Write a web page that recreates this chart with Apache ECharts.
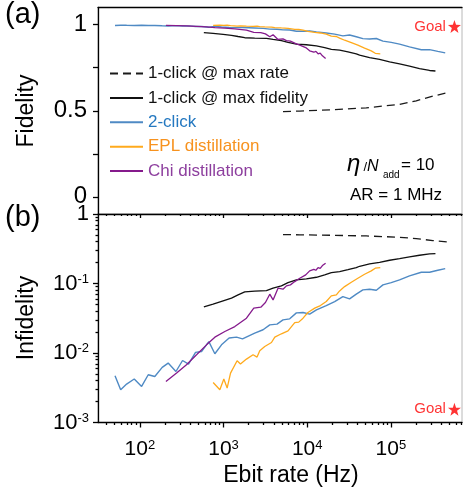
<!DOCTYPE html>
<html>
<head>
<meta charset="utf-8">
<script src="https://cdn.jsdelivr.net/npm/echarts@6/dist/echarts.min.js"></script>
<style>
  html, body { margin: 0; padding: 0; background: #fff; }
  #chart { width: 463px; height: 491px; }
</style>
</head>
<body>
<div id="chart"></div>
<script>
// Entanglement rate vs. fidelity / infidelity for several generation schemes
const seriesNames = ['1-click @ max rate', '1-click @ max fidelity', '2-click', 'EPL distillation', 'Chi distillation'];

// 1-click, operated at maximum rate (Hz, infidelity)
const oneClickRateRate = [5140, 8150, 20300, 50800, 127000, 201000, 317000, 479000];
const oneClickRateInf  = [0.505, 0.502, 0.494, 0.483, 0.463, 0.442, 0.415, 0.395];

// 1-click, operated at maximum fidelity
const oneClickFidRate = [582, 751, 989, 1245, 1492, 1794, 2361, 3258, 3907, 4920, 5900, 7430, 9770, 12880, 16180, 19450, 24430, 30700, 38600, 42300, 55700, 73300, 96600, 127000, 167000, 220000, 290000, 341000];
const oneClickFidInf  = [0.0461, 0.0504, 0.0562, 0.0615, 0.0686, 0.0757, 0.0775, 0.079, 0.0856, 0.0924, 0.103, 0.1127, 0.1164, 0.123, 0.133, 0.1434, 0.148, 0.158, 0.169, 0.177, 0.191, 0.202, 0.216, 0.228, 0.241, 0.255, 0.266, 0.269];

// 2-click
const twoClickRate = [50.5, 59, 69.5, 85.7, 105, 126, 151, 185, 218, 270, 324, 382, 463, 546, 668, 788, 946, 1167, 1430, 1687, 2360, 2970, 3570, 4360, 5140, 6180, 7430, 8910, 10700, 12900, 16900, 21300, 26700, 32100, 38600, 46300, 55700, 67000, 80400, 101000, 127000, 167000, 231000, 290000, 364000, 446000];
const twoClickInf  = [0.0047, 0.00296, 0.00357, 0.00422, 0.0033, 0.00486, 0.00459, 0.0062, 0.00716, 0.00542, 0.0078, 0.00693, 0.0102, 0.0105, 0.0146, 0.00975, 0.0131, 0.0164, 0.0169, 0.016, 0.0193, 0.0216, 0.0254, 0.026, 0.030, 0.031, 0.0378, 0.0382, 0.0362, 0.0418, 0.0481, 0.055, 0.0648, 0.060, 0.0702, 0.0809, 0.0828, 0.0801, 0.0955, 0.103, 0.1127, 0.1286, 0.1453, 0.145, 0.155, 0.1637];

// EPL distillation
const eplRate = [752, 904, 1009, 1105, 1213, 1453, 1595, 1880, 2255, 2517, 2710, 3110, 3740, 4100, 4920, 5900, 7100, 7920, 8920, 10200, 12300, 14400, 16900, 19400, 22300, 24400, 28000, 33700, 40300, 48500, 58300, 65100, 74700];
const eplInf  = [0.00377, 0.00296, 0.00422, 0.00313, 0.00514, 0.00773, 0.00693, 0.00817, 0.00942, 0.00873, 0.01076, 0.0124, 0.01415, 0.0169, 0.0189, 0.0208, 0.0274, 0.0278, 0.0317, 0.0382, 0.0442, 0.0481, 0.055, 0.0664, 0.0686, 0.0783, 0.0902, 0.1044, 0.119, 0.136, 0.152, 0.166, 0.169];

// Chi distillation
const chiRate = [205, 275, 361, 476, 627, 788, 1037, 1365, 1880, 2300, 2790, 3170, 3570, 3910, 4480, 5140, 5650, 6300, 7100, 8150, 9600, 10700, 11300, 12000, 12700, 13500, 14300, 15200, 15900, 16600];
const chiInf  = [0.00389, 0.00514, 0.00677, 0.00942, 0.0131, 0.0169, 0.0204, 0.024, 0.0317, 0.0442, 0.0456, 0.0532, 0.0702, 0.0581, 0.0856, 0.0828, 0.0924, 0.0955, 0.1065, 0.119, 0.133, 0.152, 0.147, 0.160, 0.155, 0.169, 0.165, 0.181, 0.176, 0.196];

// Target operating point
const goalRate = [575000];
const goalFid  = [0.99];
const goalInf  = [0.00155];

// Axis ticks
const rateMajorTicks = [1e2, 1e3, 1e4, 1e5];
const fidTicks = [0, 0.25, 0.5, 0.75, 1];
const fidLabels = [0, 0.5, 1];
const infMajorTicks = [1e-3, 1e-2, 1e-1, 1];

const RATE_MIN = Math.pow(10, 1.5), RATE_MAX = Math.pow(10, 5.85);
const FONT = 'Liberation Sans, Arial, Helvetica, sans-serif';

const colors = {
  '1-click @ max rate': { line: '#1a1a1a', text: '#111111', dash: [8, 5] },
  '1-click @ max fidelity': { line: '#111111', text: '#111111' },
  '2-click': { line: '#4f8ac4', text: '#2478c0' },
  'EPL distillation': { line: '#ffaa1c', text: '#f7921e' },
  'Chi distillation': { line: '#851a8c', text: '#8d3f9e' }
};

function minorValues(lo, hi) {
  const out = [];
  for (let d = -4; d <= 6; d++) {
    for (let k = 2; k <= 9; k++) {
      const v = k * Math.pow(10, d);
      if (v > lo && v < hi) out.push(+v.toPrecision(3));
    }
  }
  return out;
}

const pairs = (xs, ys) => xs.map((x, i) => [x, ys[i]]);
const toFid = ys => ys.map(v => +(1 - v).toFixed(5));

const rateSets = [oneClickRateRate, oneClickFidRate, twoClickRate, eplRate, chiRate];
const infSets = [oneClickRateInf, oneClickFidInf, twoClickInf, eplInf, chiInf];

const lineSeries = [];
seriesNames.forEach((name, i) => {
  const c = colors[name];
  const lineStyle = { color: c.line, width: name === '2-click' ? 1.4 : 1.3, type: c.dash || 'solid' };
  lineSeries.push({
    name, type: 'line', xAxisIndex: 0, yAxisIndex: 0, symbol: 'none',
    lineStyle, itemStyle: { color: c.line }, z: 5 + i,
    data: pairs(rateSets[i], toFid(infSets[i]))
  });
  lineSeries.push({
    name, type: 'line', xAxisIndex: 1, yAxisIndex: 1, symbol: 'none',
    lineStyle, itemStyle: { color: c.line }, z: 5 + i,
    data: pairs(rateSets[i], infSets[i])
  });
});

const starPath = 'path://M50,2 L61.8,36.2 L97.6,36.6 L69,58.2 L79.4,92.6 L50,72 L20.6,92.6 L31,58.2 L2.4,36.6 L38.2,36.2 Z';
const goalLabel = { show: true, position: 'left', distance: 2, formatter: 'Goal', color: '#ff0000', fontSize: 15, fontFamily: FONT };
lineSeries.push({
  type: 'scatter', xAxisIndex: 0, yAxisIndex: 0, symbol: starPath, symbolSize: 13,
  itemStyle: { color: '#ff0000' }, label: goalLabel, z: 20,
  data: pairs(goalRate, goalFid)
});
lineSeries.push({
  type: 'scatter', xAxisIndex: 1, yAxisIndex: 1, symbol: starPath, symbolSize: 13,
  itemStyle: { color: '#ff0000' }, label: goalLabel, z: 20,
  data: pairs(goalRate, goalInf)
});

const black = { color: '#000', width: 1.3 };
const noLabel = { show: false };
const supRich = {
  b: { fontSize: 21, fontFamily: FONT, color: '#000' },
  s: { fontSize: 13, fontFamily: FONT, color: '#000', verticalAlign: 'top' }
};
const supRichY = {
  b: { fontSize: 22, fontFamily: FONT, color: '#000' },
  s: { fontSize: 13, fontFamily: FONT, color: '#000', verticalAlign: 'top' }
};
const powLabel = v => {
  const e = Math.round(Math.log10(v));
  return e === 0 ? '{b|1}' : '{b|10}{s|' + e + '}';
};

const logX = (grid, extra) => Object.assign({
  type: 'log', gridIndex: grid, min: RATE_MIN, max: RATE_MAX, logBase: 10,
  splitLine: { show: false }, minorTick: { show: false }, minorSplitLine: { show: false }
}, extra);

const chart = echarts.init(document.getElementById('chart'), null, { renderer: 'canvas' });
chart.setOption({
  animation: false,
  backgroundColor: '#fff',
  grid: [
    { left: 98, top: 7.5, width: 364, height: 206.5, show: true, borderColor: '#b8b8b8', borderWidth: 1 },
    { left: 98, top: 214, width: 364, height: 208.5, show: true, borderColor: '#b8b8b8', borderWidth: 1 }
  ],
  xAxis: [
    // top panel: plain top border line
    logX(0, { position: 'top', axisLine: { show: true, onZero: false, lineStyle: black }, axisTick: { show: false }, axisLabel: noLabel }),
    // bottom panel: labelled major ticks
    logX(1, {
      position: 'bottom',
      axisLine: { show: true, onZero: false, lineStyle: black },
      axisTick: { show: true, length: 5, lineStyle: black, customValues: rateMajorTicks },
      axisLabel: { show: true, margin: 16, customValues: rateMajorTicks, formatter: powLabel, rich: supRich }
    }),
    // bottom panel: minor ticks
    logX(1, {
      position: 'bottom',
      axisLine: { show: false, onZero: false },
      axisTick: { show: true, length: 2.5, lineStyle: black, customValues: minorValues(RATE_MIN, RATE_MAX) },
      axisLabel: noLabel
    }),
    // bottom panel: mirrored top edge ticks
    logX(1, {
      position: 'top',
      axisLine: { show: true, onZero: false, lineStyle: black },
      axisTick: { show: true, inside: true, length: 4, lineStyle: black, customValues: rateMajorTicks },
      axisLabel: noLabel
    }),
    logX(1, {
      position: 'top',
      axisLine: { show: false, onZero: false },
      axisTick: { show: true, inside: true, length: 2, lineStyle: black, customValues: minorValues(RATE_MIN, RATE_MAX) },
      axisLabel: noLabel
    })
  ],
  yAxis: [
    {
      type: 'value', gridIndex: 0, position: 'left', min: -0.1, max: 1.1,
      splitLine: { show: false },
      axisLine: { show: true, onZero: false, lineStyle: black },
      axisTick: { show: true, length: 5, lineStyle: black, customValues: fidTicks },
      axisLabel: { show: true, margin: 11, customValues: fidLabels, fontSize: 24, fontFamily: FONT, color: '#000' }
    },
    {
      type: 'log', gridIndex: 1, position: 'left', min: 1e-3, max: 1, logBase: 10,
      splitLine: { show: false },
      axisLine: { show: true, onZero: false, lineStyle: black },
      axisTick: { show: true, length: 5, lineStyle: black, customValues: infMajorTicks },
      axisLabel: { show: true, margin: 9, customValues: infMajorTicks, formatter: powLabel, rich: supRichY }
    },
    {
      type: 'log', gridIndex: 1, position: 'left', offset: 0, min: 1e-3, max: 1, logBase: 10,
      splitLine: { show: false },
      axisLine: { show: false, onZero: false },
      axisTick: { show: true, length: 2.5, lineStyle: black, customValues: minorValues(1e-3, 1) },
      axisLabel: noLabel
    }
  ],
  legend: {
    orient: 'vertical', left: 104, top: 60,
    itemWidth: 33, itemHeight: 12, itemGap: 7.4,
    selectedMode: false,
    itemStyle: { opacity: 0 },
    textStyle: { fontSize: 17, fontFamily: FONT, lineHeight: 17 },
    data: seriesNames.map(n => ({ name: n, textStyle: { color: colors[n].text } }))
  },
  graphic: [
    { type: 'text', left: 5, top: 0, style: { text: '(a)', fontSize: 29, fontFamily: FONT, fill: '#000' } },
    { type: 'text', left: 5, top: 203, style: { text: '(b)', fontSize: 29, fontFamily: FONT, fill: '#000' } },
    { type: 'text', x: 27, y: 111, rotation: Math.PI / 2, style: { text: 'Fidelity', fontSize: 23, fontFamily: FONT, fill: '#000', align: 'center', verticalAlign: 'middle' } },
    { type: 'text', x: 27, y: 318, rotation: Math.PI / 2, style: { text: 'Infidelity', fontSize: 23, fontFamily: FONT, fill: '#000', align: 'center', verticalAlign: 'middle' } },
    { type: 'text', x: 291, y: 476, style: { text: 'Ebit rate (Hz)', fontSize: 23, fontFamily: FONT, fill: '#000', align: 'center', verticalAlign: 'middle' } },
    { type: 'text', x: 347, y: 164, style: { text: 'η', fontSize: 24, fontStyle: 'italic', fontFamily: FONT, fill: '#000', verticalAlign: 'middle' } },
    { type: 'text', x: 363.5, y: 167, style: { text: '/', fontSize: 13, fontFamily: FONT, fill: '#000', verticalAlign: 'middle' } },
    { type: 'text', x: 367, y: 167, style: { text: 'N', fontSize: 16, fontStyle: 'italic', fontFamily: FONT, fill: '#000', verticalAlign: 'middle' } },
    { type: 'text', x: 383, y: 175, style: { text: 'add', fontSize: 10, fontFamily: FONT, fill: '#000', verticalAlign: 'middle' } },
    { type: 'text', x: 401, y: 165.5, style: { text: '= 10', fontSize: 17, fontFamily: FONT, fill: '#000', verticalAlign: 'middle' } },
    { type: 'text', x: 350, y: 195, style: { text: 'AR = 1 MHz', fontSize: 17, fontFamily: FONT, fill: '#000', verticalAlign: 'middle' } }
  ],
  series: lineSeries
});
</script>
</body>
</html>
